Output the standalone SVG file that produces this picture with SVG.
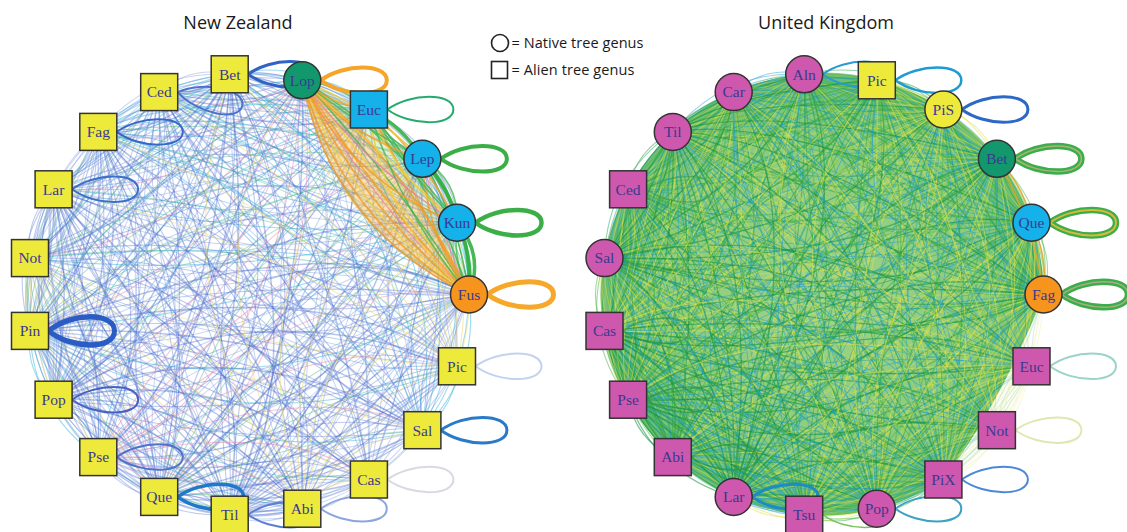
<svg xmlns="http://www.w3.org/2000/svg" xmlns:xlink="http://www.w3.org/1999/xlink" width="1127" height="532" viewBox="0 0 1127 532">
<style>
text.lb{font-family:"Liberation Serif","Times New Roman",serif;font-size:15.5px;fill:#3a3a8f;text-anchor:middle}
text.tt{font-family:"Open Sans","Liberation Sans",sans-serif;font-size:18px;fill:#1a1a1a;text-anchor:middle}
text.lg{font-family:"Open Sans","Liberation Sans",sans-serif;font-size:14.5px;fill:#1a1a1a}
.nd{stroke:#333;stroke-width:1.5}
.fy{fill:#eeea3b}.fm{fill:#cd58ad}.fc{fill:#14b1ea}.fg{fill:#13986e}.fo{fill:#f7941e}
.lp{fill:none}
.nb1{stroke:#4a6fd0;stroke-opacity:.36;stroke-width:1.1}
.nb2{stroke:#7d9be0;stroke-opacity:.42;stroke-width:1}
.nb3{stroke:#3558c2;stroke-opacity:.35;stroke-width:1.5}
.ncy{stroke:#2fb0d8;stroke-opacity:.45;stroke-width:1.1}
.ngr{stroke:#55c288;stroke-opacity:.45;stroke-width:1.1}
.npk{stroke:#f08cb2;stroke-opacity:.5;stroke-width:1.1}
.nyl{stroke:#f2dc7a;stroke-opacity:.55;stroke-width:1.1}
.wo{stroke:#f39a1e;stroke-opacity:.75;stroke-width:1.8;fill:none}
.wy{stroke:#f3cf3a;stroke-opacity:.75;stroke-width:1.6;fill:none}
.wg{stroke:#3db54a;stroke-opacity:.75;stroke-width:1.6;fill:none}
.wp{stroke:#f07aa6;stroke-opacity:.65;stroke-width:1.4;fill:none}
.wG{stroke:#33b044;stroke-opacity:.9;stroke-width:3.5;fill:none}
.ug1{stroke:#1f9f48;stroke-opacity:.48;stroke-width:1.1}
.ug2{stroke:#45b446;stroke-opacity:.5;stroke-width:1.1}
.uyl{stroke:#dde24a;stroke-opacity:.5;stroke-width:1.1}
.ucy{stroke:#1d9fd0;stroke-opacity:.48;stroke-width:1}
.ugd{stroke:#139446;stroke-opacity:.55;stroke-width:1.3}
.uo{stroke:#d9a92a;stroke-opacity:.9;stroke-width:1.6;fill:none}
</style>
<defs>
<path id="lp" d="M0 0C23 -17 66 -17 66 0C66 17 23 17 0 0"/>
<g id="fA" fill="none">
<path d="M221 0Q197.07 -32.88 209.03 -71.76"/>
<path d="M221 0Q163.77 -56.22 174.4 -135.74"/>
<path d="M221 0Q124.68 -67.48 120.88 -185.01"/>
<path d="M221 0Q84.07 -65.43 54.25 -214.24"/>
<path d="M221 0Q46.31 -50.31 -18.25 -220.24"/>
<path d="M221 0Q15.52 -23.75 -88.78 -202.39"/>
<path d="M221 0Q-4.99 11.36 -149.68 -162.59"/>
<path d="M221 0Q-80.54 56.24 -194.36 -105.18"/>
<path d="M221 0Q-7.59 91.56 -217.99 -36.37"/>
</g>
<g id="fB" fill="none">
<path d="M221 0Q232.96 -38.87 209.03 -71.76"/>
<path d="M221 0Q231.64 -79.52 174.4 -135.74"/>
<path d="M221 0Q217.18 -117.54 120.88 -185.01"/>
<path d="M221 0Q191.19 -148.8 54.25 -214.24"/>
<path d="M221 0Q156.44 -169.94 -18.25 -220.24"/>
<path d="M221 0Q116.71 -178.64 -88.78 -202.39"/>
<path d="M221 0Q76.31 -173.97 -149.68 -162.59"/>
<path d="M221 0Q39.61 -156.43 -194.36 -105.18"/>
<path d="M221 0Q10.6 -127.93 -217.99 -36.37"/>
</g>
<g id="fC" fill="none">
<path d="M221 0Q207.84 -34.68 209.03 -71.76"/>
<path d="M221 0Q184.13 -63.21 174.4 -135.74"/>
<path d="M221 0Q152.43 -82.49 120.88 -185.01"/>
<path d="M221 0Q116.2 -90.44 54.25 -214.24"/>
<path d="M221 0Q79.35 -86.2 -18.25 -220.24"/>
<path d="M221 0Q45.88 -70.22 -88.78 -202.39"/>
<path d="M221 0Q19.4 -44.23 -149.68 -162.59"/>
<path d="M221 0Q2.8 -11.05 -194.36 -105.18"/>
<path d="M221 0Q63.72 31.17 -217.99 -36.37"/>
</g>
<g id="fD" fill="none">
<path d="M221 0Q222.2 -37.08 209.03 -71.76"/>
<path d="M221 0Q211.28 -72.53 174.4 -135.74"/>
<path d="M221 0Q189.44 -102.52 120.88 -185.01"/>
<path d="M221 0Q159.05 -123.79 54.25 -214.24"/>
<path d="M221 0Q123.4 -134.05 -18.25 -220.24"/>
<path d="M221 0Q86.35 -132.17 -88.78 -202.39"/>
<path d="M221 0Q51.92 -118.37 -149.68 -162.59"/>
<path d="M221 0Q23.84 -94.13 -194.36 -105.18"/>
<path d="M221 0Q5.14 -62.09 -217.99 -36.37"/>
</g>
<g id="fE" fill="none">
<path d="M221 0Q198.27 -47.83 209.03 -71.76"/>
<path d="M221 0Q161.24 -85.7 174.4 -135.74"/>
<path d="M221 0Q113.91 -109.48 120.88 -185.01"/>
<path d="M221 0Q61.43 -116.62 54.25 -214.24"/>
<path d="M221 0Q9.47 -106.32 -18.25 -220.24"/>
<path d="M221 0Q-36.32 -79.72 -88.78 -202.39"/>
<path d="M221 0Q-70.98 -39.69 -149.68 -162.59"/>
<path d="M221 0Q-90.79 9.44 -194.36 -105.18"/>
<path d="M221 0Q-93.57 62.33 -217.99 -36.37"/>
</g>
<g id="fF" fill="none">
<path d="M221 0Q226.27 -21.53 209.03 -71.76"/>
<path d="M221 0Q224.24 -43.6 174.4 -135.74"/>
<path d="M221 0Q215.16 -63.82 120.88 -185.01"/>
<path d="M221 0Q200.03 -79.99 54.25 -214.24"/>
<path d="M221 0Q180.43 -90.38 -18.25 -220.24"/>
<path d="M221 0Q158.55 -93.84 -88.78 -202.39"/>
<path d="M221 0Q136.72 -90.01 -149.68 -162.59"/>
<path d="M221 0Q117.32 -79.3 -194.36 -105.18"/>
<path d="M221 0Q102.45 -62.87 -217.99 -36.37"/>
</g>
<path id="w4a" d="M221 0Q84.07 -65.43 54.25 -214.24"/>
<path id="w4b" d="M221 0Q94.78 -73.77 54.25 -214.24"/>
<path id="w4c" d="M221 0Q103.35 -80.44 54.25 -214.24"/>
<path id="w4d" d="M221 0Q111.92 -87.11 54.25 -214.24"/>
<path id="w4e" d="M221 0Q120.49 -93.78 54.25 -214.24"/>
<path id="w4f" d="M221 0Q126.92 -98.78 54.25 -214.24"/>
<path id="w4g" d="M221 0Q137.63 -107.12 54.25 -214.24"/>
<path id="w4h" d="M221 0Q148.34 -115.45 54.25 -214.24"/>
<path id="w4i" d="M221 0Q163.34 -127.13 54.25 -214.24"/>
<path id="w3a" d="M221 0Q133.93 -72.48 120.88 -185.01"/>
<path id="w3b" d="M221 0Q152.43 -82.49 120.88 -185.01"/>
<path id="w3c" d="M221 0Q170.93 -92.51 120.88 -185.01"/>
<path id="w3d" d="M221 0Q189.44 -102.52 120.88 -185.01"/>
<path id="w2a" d="M221 0Q177.34 -60.88 174.4 -135.74"/>
<path id="w2b" d="M221 0Q190.91 -65.54 174.4 -135.74"/>
<path id="w2c" d="M221 0Q211.28 -72.53 174.4 -135.74"/>
<path id="w2d" d="M221 0Q224.85 -77.19 174.4 -135.74"/>
<path id="w1a" d="M221 0Q204.25 -34.08 209.03 -71.76"/>
<path id="w1b" d="M221 0Q225.78 -37.67 209.03 -71.76"/>
<path id="w1c" d="M221 0Q236.55 -39.47 209.03 -71.76"/>
<radialGradient id="ukg" cx="822.5" cy="294.5" r="225" gradientUnits="userSpaceOnUse">
<stop offset="0" stop-color="#8fcb74"/><stop offset=".75" stop-color="#78c264"/><stop offset="1" stop-color="#52b256"/>
</radialGradient>
</defs>
<rect width="1127" height="532" fill="#fff"/>
<text class="tt" x="238" y="29">New Zealand</text>
<text class="tt" x="826" y="29">United Kingdom</text>
<g id="legend">
<circle cx="500" cy="43" r="8.5" fill="none" stroke="#222" stroke-width="1.6"/>
<text class="lg" x="511.5" y="48" textLength="132">= Native tree genus</text>
<rect x="491.5" y="61.5" width="16" height="17" fill="none" stroke="#222" stroke-width="1.6"/>
<text class="lg" x="511.5" y="75" textLength="123">= Alien tree genus</text>
</g>
<g id="connectors">
<g id="nz-edges" transform="translate(248 294.5)">
<use href="#fA" class="nb1"/><use href="#fE" class="nb2" transform="scale(1 -1)"/><use href="#fD" class="ngr"/><use href="#fF" class="ncy"/>
<g transform="rotate(-18.947)"><use href="#fB" class="nb1"/><use href="#fE" class="nb2"/><use href="#fC" class="ncy"/></g>
<g transform="rotate(-37.895)"><use href="#fA" class="nb2"/><use href="#fF" class="nb1" transform="scale(1 -1)"/><use href="#fD" class="ngr"/></g>
<g transform="rotate(-56.842)"><use href="#fC" class="nb1"/><use href="#fE" class="nb2"/><use href="#fB" class="ncy"/></g>
<g transform="rotate(-75.789)"><use href="#fD" class="nb1"/><use href="#fF" class="nb2" transform="scale(1 -1)"/><use href="#fA" class="npk"/></g>
<g transform="rotate(-94.737)"><use href="#fA" class="nb1"/><use href="#fB" class="nb2"/><use href="#fE" class="nb3"/><use href="#fF" class="nb1" transform="scale(1 -1)"/></g>
<g transform="rotate(-113.684)"><use href="#fC" class="nb1"/><use href="#fF" class="nb2"/><use href="#fE" class="nb3" transform="scale(1 -1)"/></g>
<g transform="rotate(-132.632)"><use href="#fA" class="nb1"/><use href="#fD" class="nb2"/><use href="#fF" class="ncy" transform="scale(1 -1)"/><use href="#fE" class="nb1"/></g>
<g transform="rotate(-151.579)"><use href="#fB" class="nb1"/><use href="#fE" class="nb2" transform="scale(1 -1)"/><use href="#fC" class="nb3"/><use href="#fF" class="nb1"/></g>
<g transform="rotate(-170.526)"><use href="#fA" class="nb1"/><use href="#fF" class="nb2"/><use href="#fD" class="nyl"/></g>
<g transform="rotate(-189.474)"><use href="#fC" class="nb1"/><use href="#fE" class="nb3"/><use href="#fB" class="ncy"/><use href="#fF" class="ngr" transform="scale(1 -1)"/></g>
<g transform="rotate(-208.421)"><use href="#fD" class="nb1"/><use href="#fE" class="nb2" transform="scale(1 -1)"/><use href="#fA" class="nb3"/></g>
<g transform="rotate(-227.368)"><use href="#fB" class="nb1"/><use href="#fF" class="nb2"/><use href="#fE" class="npk"/></g>
<g transform="rotate(-246.316)"><use href="#fA" class="nb1"/><use href="#fF" class="nb2" transform="scale(1 -1)"/><use href="#fC" class="ngr"/><use href="#fD" class="nb3"/></g>
<g transform="rotate(-265.263)"><use href="#fE" class="nb1"/><use href="#fB" class="nb2"/><use href="#fD" class="nb3"/></g>
<g transform="rotate(-284.211)"><use href="#fC" class="nb2"/><use href="#fA" class="nyl"/></g>
<g transform="rotate(-303.158)"><use href="#fD" class="nb2"/></g>
<g transform="rotate(-322.105)"><use href="#fA" class="nb1"/><use href="#fB" class="ncy"/></g>
<g transform="rotate(-341.053)"><use href="#fE" class="nb2"/><use href="#fD" class="nyl"/></g>
</g>
<path d="M469 294.5Q332.07 229.07 302.25 80.26Q411.34 167.37 469 294.5Z" fill="#f6b33c" fill-opacity=".42"/>
<path d="M469 294.5Q411.34 167.37 302.25 80.26Q440 140 469 294.5Z" fill="#9fd066" fill-opacity=".3"/>
<g id="nz-native-edges" transform="translate(248 294.5)">
<use href="#w4a" class="wo"/><use href="#w4b" class="wo"/><use href="#w4c" class="wy"/><use href="#w4d" class="wo"/><use href="#w4e" class="wp"/><use href="#w4f" class="wo"/><use href="#w4g" class="wy"/><use href="#w4h" class="wg"/><use href="#w4i" class="wo"/>
<use href="#w3a" class="wy"/><use href="#w3b" class="wg"/><use href="#w3c" class="wo"/><use href="#w3d" class="wg"/>
<use href="#w2a" class="wo"/><use href="#w2b" class="wp"/><use href="#w2c" class="wg"/><use href="#w2d" class="wG"/>
<use href="#w1a" class="wg"/><use href="#w1b" class="wG"/><use href="#w1c" class="wG"/>
<g transform="rotate(-18.947)">
<use href="#w3a" class="wo"/><use href="#w3b" class="wp"/><use href="#w3c" class="wy"/><use href="#w3d" class="wg"/>
<use href="#w2a" class="wy"/><use href="#w2b" class="wg"/><use href="#w2c" class="wo"/>
<use href="#w1b" class="wG"/><use href="#w1c" class="wg"/>
</g>
<g transform="rotate(-37.895)">
<use href="#w2a" class="wo"/><use href="#w2b" class="wg"/><use href="#w2c" class="wy"/>
<use href="#w1a" class="wg"/><use href="#w1b" class="wG"/>
</g>
<g transform="rotate(-56.842)">
<use href="#w1a" class="wo"/><use href="#w1b" class="wg"/>
</g>
</g>
<path d="M1043.5 294.5A221 221 0 1 0 943.4 479.5Q1002 402 1043.5 294.5Z" fill="url(#ukg)" fill-opacity=".85"/>
<g id="uk-edges" transform="translate(822.5 294.5)">
<use href="#fA" class="ug1"/><use href="#fB" class="ug2"/><use href="#fE" class="uyl" transform="scale(1 -1)"/><use href="#fF" class="ucy"/><use href="#fC" class="ugd"/>
<g transform="rotate(-18.947)"><use href="#fC" class="ug1"/><use href="#fD" class="ug2"/><use href="#fF" class="uyl" transform="scale(1 -1)"/><use href="#fE" class="ucy"/></g>
<g transform="rotate(-37.895)"><use href="#fA" class="ug2"/><use href="#fE" class="ug1"/><use href="#fB" class="uyl"/><use href="#fD" class="ucy"/></g>
<g transform="rotate(-56.842)"><use href="#fB" class="ug1"/><use href="#fF" class="ug2"/><use href="#fC" class="uyl"/><use href="#fE" class="ucy" transform="scale(1 -1)"/></g>
<g transform="rotate(-75.789)"><use href="#fD" class="ug1"/><use href="#fA" class="ug2"/><use href="#fF" class="uyl" transform="scale(1 -1)"/><use href="#fE" class="ucy"/></g>
<g transform="rotate(-94.737)"><use href="#fC" class="ug1"/><use href="#fE" class="ug2" transform="scale(1 -1)"/><use href="#fF" class="uyl"/><use href="#fB" class="ucy"/></g>
<g transform="rotate(-113.684)"><use href="#fA" class="ug1"/><use href="#fD" class="ug2"/><use href="#fE" class="uyl"/><use href="#fF" class="ucy" transform="scale(1 -1)"/></g>
<g transform="rotate(-132.632)"><use href="#fB" class="ug1"/><use href="#fF" class="ugd" transform="scale(1 -1)"/><use href="#fC" class="ugd"/><use href="#fA" class="uyl"/><use href="#fE" class="ucy"/></g>
<g transform="rotate(-151.579)"><use href="#fE" class="ug1"/><use href="#fC" class="ug2"/><use href="#fD" class="uyl"/><use href="#fF" class="ucy"/></g>
<g transform="rotate(-170.526)"><use href="#fA" class="ugd"/><use href="#fE" class="ugd" transform="scale(1 -1)"/><use href="#fB" class="ug2"/><use href="#fF" class="uyl"/><use href="#fD" class="ucy"/></g>
<g transform="rotate(-189.474)"><use href="#fC" class="ugd"/><use href="#fF" class="ugd"/><use href="#fD" class="ug1"/><use href="#fE" class="uyl" transform="scale(1 -1)"/><use href="#fA" class="ucy"/></g>
<g transform="rotate(-208.421)"><use href="#fB" class="ugd"/><use href="#fE" class="ugd"/><use href="#fA" class="ug2"/><use href="#fF" class="uyl" transform="scale(1 -1)"/><use href="#fC" class="ucy"/></g>
<g transform="rotate(-227.368)"><use href="#fD" class="ug1"/><use href="#fF" class="ug2" transform="scale(1 -1)"/><use href="#fC" class="uyl"/><use href="#fE" class="ucy"/></g>
<g transform="rotate(-246.316)"><use href="#fA" class="ugd"/><use href="#fE" class="ugd" transform="scale(1 -1)"/><use href="#fC" class="ug1"/><use href="#fB" class="uyl"/><use href="#fF" class="ucy"/></g>
<g transform="rotate(-265.263)"><use href="#fE" class="ug1"/><use href="#fB" class="ug2"/><use href="#fD" class="uyl"/><use href="#fF" class="ucy" transform="scale(1 -1)"/></g>
<g transform="rotate(-284.211)"><use href="#fC" class="ug1"/><use href="#fF" class="ug2"/><use href="#fA" class="uyl"/><use href="#fE" class="ucy" transform="scale(1 -1)"/></g>
<g transform="rotate(-303.158)"><use href="#fD" class="ug1"/><use href="#fE" class="ucy"/><use href="#fF" class="ucy" transform="scale(1 -1)"/><use href="#fB" class="uyl"/></g>
<g transform="rotate(-322.105)"><use href="#fA" class="ucy"/><use href="#fF" class="uyl"/></g>
<g transform="rotate(-341.053)"><use href="#fC" class="ucy"/><use href="#fE" class="uyl" transform="scale(1 -1)"/></g>
<use href="#w2c" class="uo"/><use href="#w1b" class="uo"/><use href="#w1b" class="uo" transform="rotate(-18.947)"/>
</g>
<path d="M943.4 479.5Q1002 402 1043.5 294.5L1080 294.5L1080 520L943.4 520Z" fill="#fff" fill-opacity=".6"/>
</g>
<g id="loops">
<use href="#lp" class="lp" x="320.8" y="80.3" stroke="#f5a52a" stroke-width="4"/>
<use href="#lp" class="lp" x="387.4" y="109.5" stroke="#25ab6e" stroke-width="2"/>
<use href="#lp" class="lp" x="440.9" y="158.8" stroke="#3cae48" stroke-width="4"/>
<use href="#lp" class="lp" x="475.5" y="222.7" stroke="#3cae48" stroke-width="4.5"/>
<use href="#lp" class="lp" x="487.5" y="294.5" stroke="#f6a82a" stroke-width="5"/>
<use href="#lp" class="lp" x="475.5" y="366.3" stroke="#c3d2ef" stroke-width="2"/>
<use href="#lp" class="lp" x="440.9" y="430.2" stroke="#2b79c9" stroke-width="3"/>
<use href="#lp" class="lp" x="387.4" y="479.5" stroke="#d8dae2" stroke-width="2"/>
<use href="#lp" class="lp" x="320.8" y="508.7" stroke="#8ba6df" stroke-width="2"/>
<use href="#lp" class="lp" x="248.2" y="514.7" stroke="#5c7fd2" stroke-width="2"/>
<use href="#lp" class="lp" x="177.7" y="496.9" stroke="#1f78c9" stroke-width="3.5"/>
<use href="#lp" class="lp" x="116.8" y="457.1" stroke="#5171c9" stroke-width="2"/>
<use href="#lp" class="lp" x="72.1" y="399.7" stroke="#4a60c1" stroke-width="2"/>
<use href="#lp" class="lp" transform="translate(48.5 330.9) scale(1 1.1)" stroke="#2b5cc4" stroke-width="5"/>
<use href="#lp" class="lp" x="72.1" y="189.3" stroke="#3d6fc9" stroke-width="2"/>
<use href="#lp" class="lp" x="116.8" y="131.9" stroke="#3867c8" stroke-width="2"/>
<use href="#lp" class="lp" transform="translate(177.7 92.1) rotate(12)" stroke="#4a74cc" stroke-width="2"/>
<use href="#lp" class="lp" x="248.2" y="74.3" stroke="#2f63c5" stroke-width="3"/>
<use href="#lp" class="lp" x="1062" y="294.5" stroke="#3aae4a" stroke-width="6.5"/>
<use href="#lp" class="lp" x="1062" y="294.5" stroke="#a8ae80" stroke-width="1.5"/>
<use href="#lp" class="lp" x="1050" y="222.7" stroke="#3aae4a" stroke-width="6.5"/>
<use href="#lp" class="lp" x="1050" y="222.7" stroke="#d9b83a" stroke-width="2"/>
<use href="#lp" class="lp" x="1015.4" y="158.8" stroke="#3aae4a" stroke-width="6.5"/>
<use href="#lp" class="lp" x="1015.4" y="158.8" stroke="#a9b47a" stroke-width="1.5"/>
<use href="#lp" class="lp" x="961.9" y="109.5" stroke="#2c68c6" stroke-width="3"/>
<use href="#lp" class="lp" x="895.3" y="80.3" stroke="#1e9bd2" stroke-width="2.5"/>
<use href="#lp" class="lp" x="822.7" y="74.3" stroke="#2a9ad2" stroke-width="2"/>
<use href="#lp" class="lp" x="646.6" y="189.3" stroke="#2f9c4e" stroke-opacity=".6" stroke-width="1.5"/>
<use href="#lp" class="lp" x="623" y="258.1" stroke="#2f9c4e" stroke-opacity=".5" stroke-width="1.5"/>
<use href="#lp" class="lp" x="623" y="330.9" stroke="#2a954a" stroke-opacity=".7" stroke-width="1.6"/>
<use href="#lp" class="lp" x="646.6" y="399.7" stroke="#2a954a" stroke-opacity=".7" stroke-width="1.6"/>
<use href="#lp" class="lp" x="691.3" y="457.1" stroke="#2a954a" stroke-opacity=".7" stroke-width="1.6"/>
<use href="#lp" class="lp" x="752.2" y="496.9" stroke="#1e8bc2" stroke-width="3"/>
<use href="#lp" class="lp" x="822.7" y="514.7" stroke="#7ec25e" stroke-width="1.5"/>
<use href="#lp" class="lp" x="895.3" y="508.7" stroke="#3aa2c2" stroke-width="2"/>
<use href="#lp" class="lp" x="961.9" y="479.5" stroke="#4a88d8" stroke-width="2"/>
<use href="#lp" class="lp" x="1015.4" y="430.2" stroke="#dce9b0" stroke-width="2"/>
<use href="#lp" class="lp" x="1050" y="366.3" stroke="#9ad3c9" stroke-width="2"/>
</g>
<g id="nz-Fus"><circle class="nd fo" cx="469" cy="294.5" r="18.5"/><text class="lb" x="469" y="299.8">Fus</text></g>
<g id="nz-Kun"><circle class="nd fc" cx="457" cy="222.7" r="18.5"/><text class="lb" x="457" y="228">Kun</text></g>
<g id="nz-Lep"><circle class="nd fc" cx="422.4" cy="158.8" r="18.5"/><text class="lb" x="422.4" y="164.1">Lep</text></g>
<g id="nz-Euc"><rect class="nd fc" x="350.4" y="91" width="37" height="37"/><text class="lb" x="368.9" y="114.8">Euc</text></g>
<g id="nz-Lop"><circle class="nd fg" cx="302.3" cy="80.3" r="18.5"/><text class="lb" x="302.3" y="85.6">Lop</text></g>
<g id="nz-Bet"><rect class="nd fy" x="211.2" y="55.8" width="37" height="37"/><text class="lb" x="229.7" y="79.6">Bet</text></g>
<g id="nz-Ced"><rect class="nd fy" x="140.7" y="73.6" width="37" height="37"/><text class="lb" x="159.2" y="97.4">Ced</text></g>
<g id="nz-Fag"><rect class="nd fy" x="79.8" y="113.4" width="37" height="37"/><text class="lb" x="98.3" y="137.2">Fag</text></g>
<g id="nz-Lar"><rect class="nd fy" x="35.1" y="170.8" width="37" height="37"/><text class="lb" x="53.6" y="194.6">Lar</text></g>
<g id="nz-Not"><rect class="nd fy" x="11.5" y="239.6" width="37" height="37"/><text class="lb" x="30" y="263.4">Not</text></g>
<g id="nz-Pin"><rect class="nd fy" x="11.5" y="312.4" width="37" height="37"/><text class="lb" x="30" y="336.2">Pin</text></g>
<g id="nz-Pop"><rect class="nd fy" x="35.1" y="381.2" width="37" height="37"/><text class="lb" x="53.6" y="405">Pop</text></g>
<g id="nz-Pse"><rect class="nd fy" x="79.8" y="438.6" width="37" height="37"/><text class="lb" x="98.3" y="462.4">Pse</text></g>
<g id="nz-Que"><rect class="nd fy" x="140.7" y="478.4" width="37" height="37"/><text class="lb" x="159.2" y="502.2">Que</text></g>
<g id="nz-Til"><rect class="nd fy" x="211.2" y="496.2" width="37" height="37"/><text class="lb" x="229.7" y="520">Til</text></g>
<g id="nz-Abi"><rect class="nd fy" x="283.8" y="490.2" width="37" height="37"/><text class="lb" x="302.3" y="514">Abi</text></g>
<g id="nz-Cas"><rect class="nd fy" x="350.4" y="461" width="37" height="37"/><text class="lb" x="368.9" y="484.8">Cas</text></g>
<g id="nz-Sal"><rect class="nd fy" x="403.9" y="411.7" width="37" height="37"/><text class="lb" x="422.4" y="435.5">Sal</text></g>
<g id="nz-Pic"><rect class="nd fy" x="438.5" y="347.8" width="37" height="37"/><text class="lb" x="457" y="371.6">Pic</text></g>
<g id="uk-Fag"><circle class="nd fo" cx="1043.5" cy="294.5" r="18.5"/><text class="lb" x="1043.5" y="299.8">Fag</text></g>
<g id="uk-Que"><circle class="nd fc" cx="1031.5" cy="222.7" r="18.5"/><text class="lb" x="1031.5" y="228">Que</text></g>
<g id="uk-Bet"><circle class="nd fg" cx="996.9" cy="158.8" r="18.5"/><text class="lb" x="996.9" y="164.1">Bet</text></g>
<g id="uk-PiS"><circle class="nd fy" cx="943.4" cy="109.5" r="18.5"/><text class="lb" x="943.4" y="114.8">PiS</text></g>
<g id="uk-Pic"><rect class="nd fy" x="858.3" y="61.8" width="37" height="37"/><text class="lb" x="876.8" y="85.6">Pic</text></g>
<g id="uk-Aln"><circle class="nd fm" cx="804.2" cy="74.3" r="18.5"/><text class="lb" x="804.2" y="79.6">Aln</text></g>
<g id="uk-Car"><circle class="nd fm" cx="733.7" cy="92.1" r="18.5"/><text class="lb" x="733.7" y="97.4">Car</text></g>
<g id="uk-Til"><circle class="nd fm" cx="672.8" cy="131.9" r="18.5"/><text class="lb" x="672.8" y="137.2">Til</text></g>
<g id="uk-Ced"><rect class="nd fm" x="609.6" y="170.8" width="37" height="37"/><text class="lb" x="628.1" y="194.6">Ced</text></g>
<g id="uk-Sal"><circle class="nd fm" cx="604.5" cy="258.1" r="18.5"/><text class="lb" x="604.5" y="263.4">Sal</text></g>
<g id="uk-Cas"><rect class="nd fm" x="586" y="312.4" width="37" height="37"/><text class="lb" x="604.5" y="336.2">Cas</text></g>
<g id="uk-Pse"><rect class="nd fm" x="609.6" y="381.2" width="37" height="37"/><text class="lb" x="628.1" y="405">Pse</text></g>
<g id="uk-Abi"><rect class="nd fm" x="654.3" y="438.6" width="37" height="37"/><text class="lb" x="672.8" y="462.4">Abi</text></g>
<g id="uk-Lar"><circle class="nd fm" cx="733.7" cy="496.9" r="18.5"/><text class="lb" x="733.7" y="502.2">Lar</text></g>
<g id="uk-Tsu"><rect class="nd fm" x="785.7" y="496.2" width="37" height="37"/><text class="lb" x="804.2" y="520">Tsu</text></g>
<g id="uk-Pop"><circle class="nd fm" cx="876.8" cy="508.7" r="18.5"/><text class="lb" x="876.8" y="514">Pop</text></g>
<g id="uk-PiX"><rect class="nd fm" x="924.9" y="461" width="37" height="37"/><text class="lb" x="943.4" y="484.8">PiX</text></g>
<g id="uk-Not"><rect class="nd fm" x="978.4" y="411.7" width="37" height="37"/><text class="lb" x="996.9" y="435.5">Not</text></g>
<g id="uk-Euc"><rect class="nd fm" x="1013" y="347.8" width="37" height="37"/><text class="lb" x="1031.5" y="371.6">Euc</text></g>
</svg>
